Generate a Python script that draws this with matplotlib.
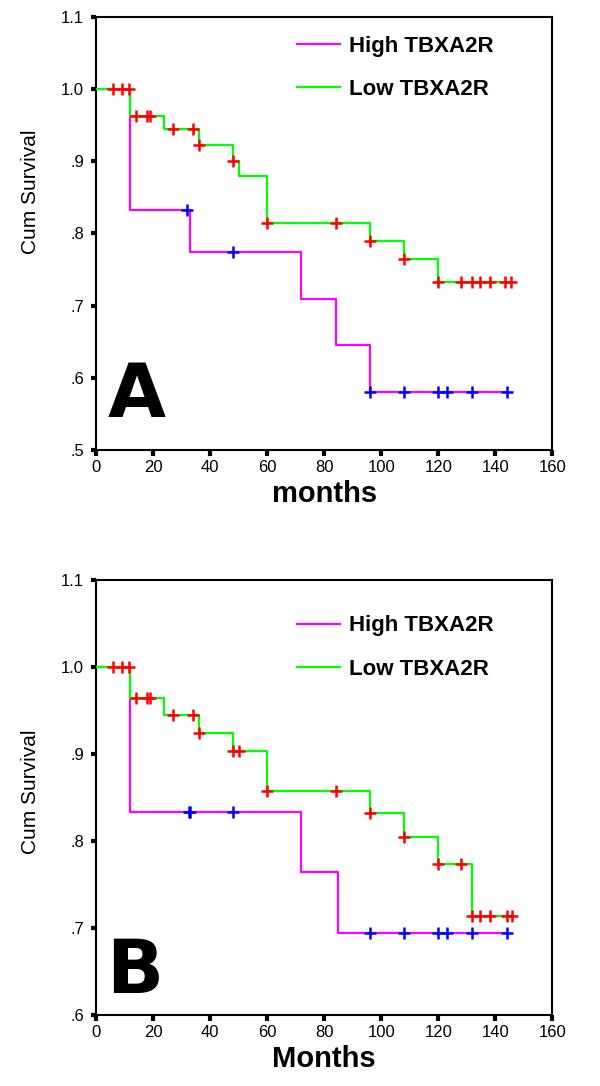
import numpy as np
import matplotlib
matplotlib.use("Agg")
import matplotlib.pyplot as plt
from matplotlib.lines import Line2D

plt.rcParams['font.family'] = ['Liberation Sans', 'DejaVu Sans']

# --- panel A data ---
a_high_t = [0, 12, 33, 72, 84, 96]
a_high_s = [1.0, 0.833, 0.774, 0.709, 0.645, 0.580]
a_high_c = [32, 48, 96, 108, 120, 123, 132, 144]

a_low_t = [0, 12, 24, 36, 48, 50, 60, 96, 108, 120]
a_low_s = [1.0, 0.963, 0.944, 0.923, 0.900, 0.879, 0.815, 0.790, 0.764, 0.733]
a_low_c = [6, 9, 11.5, 14, 18, 19, 27, 34, 36, 48, 60, 84, 96, 108, 120,
           128, 132, 134.5, 138, 143.5, 145.5]

# --- panel B data ---
b_high_t = [0, 12, 72, 85]
b_high_s = [1.0, 0.833, 0.764, 0.694]
b_high_c = [32.5, 33, 48, 96, 108, 120, 123, 132, 144]

b_low_t = [0, 12, 24, 36, 48, 60, 96, 108, 120, 132]
b_low_s = [1.0, 0.965, 0.945, 0.924, 0.904, 0.858, 0.832, 0.805, 0.774, 0.714]
b_low_c = [6, 9, 11.5, 14, 18, 19, 27, 34, 36, 48, 50, 60, 84, 96, 108, 120,
           128, 132, 134.5, 138, 144, 146]

xticks = [0, 20, 40, 60, 80, 100, 120, 140, 160]


def km_curve(ax, t, s, c, line_col):
    t = np.array(t, dtype=float)
    s = np.array(s, dtype=float)
    c = np.array(c, dtype=float)
    # extend the last step to the last censored case
    tt = np.append(t, c.max())
    ss = np.append(s, s[-1])
    ax.step(tt, ss, where='post', color=line_col, lw=1.6, zorder=3)
    idx = np.searchsorted(t, c, side='right') - 1
    return c, s[idx]


def panel(ax, data, ylo, yticks, ylabels, xlabel, letter, letter_pos, ylab_y, leg_y):
    (ht, hs, hc), (lt, ls, lc) = data
    hcx, hcy = km_curve(ax, ht, hs, hc, '#ff00ff')
    lcx, lcy = km_curve(ax, lt, ls, lc, '#00ff00')
    ax.plot(hcx, hcy, ls='none', marker='+', ms=9, mew=1.8, color='#0000ff', zorder=4)
    ax.plot(lcx, lcy, ls='none', marker='+', ms=9, mew=1.8, color='#ff0000', zorder=4)

    ax.set_xlim(0, 160)
    ax.set_ylim(ylo, 1.1)
    ax.set_xticks(xticks)
    ax.set_yticks(yticks)
    ax.set_yticklabels(ylabels)
    for sp in ax.spines.values():
        sp.set_linewidth(1.5)
    ax.tick_params(axis='y', direction='out', length=3.5, width=3, labelsize=12, pad=5)
    ax.tick_params(axis='x', direction='out', length=4, width=3, labelsize=12, pad=3)

    ax.set_xlabel(xlabel, fontsize=21, fontweight='bold', labelpad=4)
    ax.set_ylabel('Cum Survival', fontsize=15)
    ax.yaxis.set_label_coords(-0.123, ylab_y)

    ax.text(letter_pos[0], letter_pos[1], letter, transform=ax.transAxes,
            fontsize=54, fontweight='bold', family='DejaVu Sans',
            ha='left', va='baseline')

    handles = [Line2D([], [], color='#ff00ff', lw=1.6),
               Line2D([], [], color='#00ff00', lw=1.6)]
    ax.legend(handles, ['High TBXA2R', 'Low TBXA2R'], loc='upper left',
              bbox_to_anchor=(0.44, leg_y), frameon=False, borderpad=0,
              borderaxespad=0, handlelength=1.95, handletextpad=0.4,
              labelspacing=1.0, prop={'size': 16, 'weight': 'bold'})


fig = plt.figure(figsize=(6, 10.86), dpi=100)
ax1 = fig.add_axes([0.16, 0.5856, 0.7605, 0.399])
ax2 = fig.add_axes([0.16, 0.0654, 0.7605, 0.4003])

panel(ax1, ((a_high_t, a_high_s, a_high_c), (a_low_t, a_low_s, a_low_c)),
      0.5, [0.5, 0.6, 0.7, 0.8, 0.9, 1.0, 1.1],
      ['.5', '.6', '.7', '.8', '.9', '1.0', '1.1'], 'months', 'A',
      (0.026, 0.076), 0.595, 0.956)
panel(ax2, ((b_high_t, b_high_s, b_high_c), (b_low_t, b_low_s, b_low_c)),
      0.6, [0.6, 0.7, 0.8, 0.9, 1.0, 1.1],
      ['.6', '.7', '.8', '.9', '1.0', '1.1'], 'Months', 'B',
      (0.022, 0.05), 0.513, 0.919)

fig.savefig('out.png', dpi=100)
